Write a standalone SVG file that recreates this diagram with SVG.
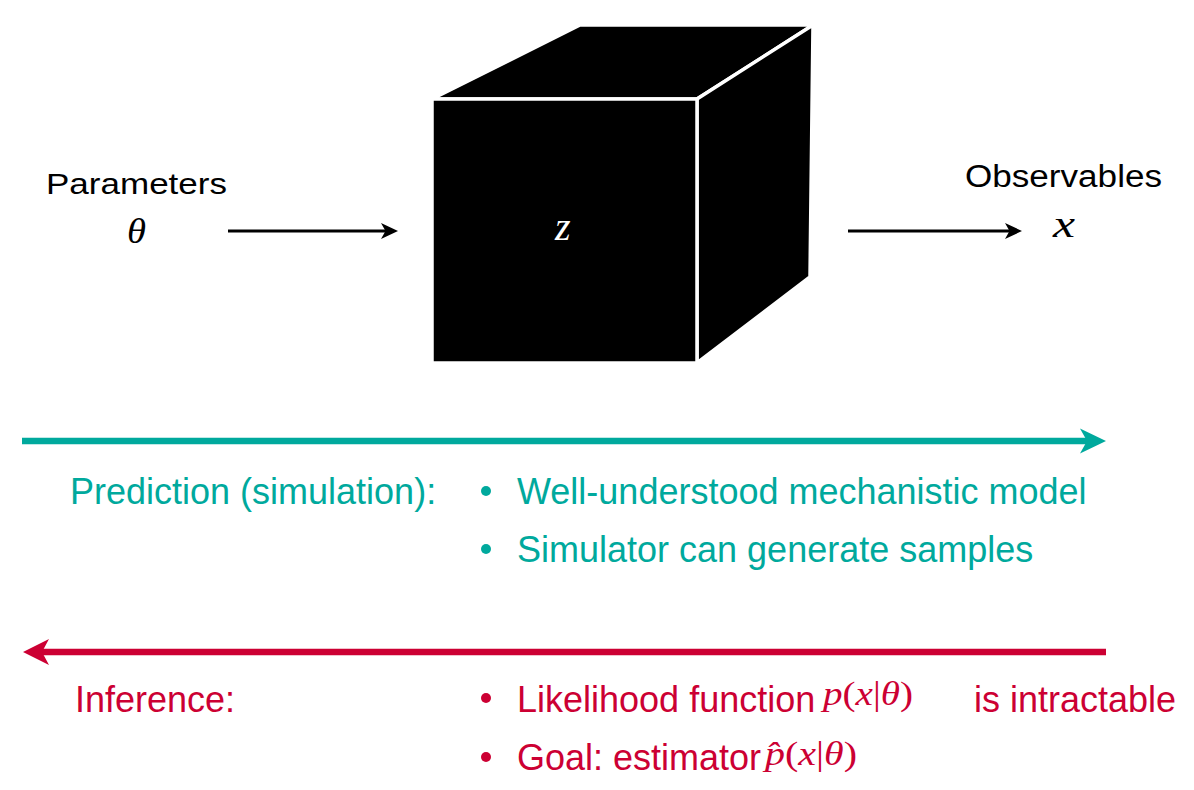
<svg xmlns="http://www.w3.org/2000/svg" width="1194" height="790" viewBox="0 0 1194 790">
<defs>
<style>
.sans{font-family:"Liberation Sans",Arial,Helvetica,sans-serif;}
.math{font-family:"Liberation Serif","Times New Roman",serif;}
.it{font-style:italic;}
.teal{fill:#00a99d;}
.red{fill:#cc0033;}
.face{fill:#000;stroke:#fff;stroke-width:3.5;stroke-linejoin:miter;}
</style>
<marker id="headBlack" markerUnits="userSpaceOnUse" markerWidth="20" markerHeight="20" viewBox="-18 -10 20 20" refX="-8" refY="0" orient="auto">
<path d="M0,0 L-17,-8 L-12.5,0 L-17,8 Z" fill="#000"/>
</marker>
<marker id="headTeal" markerUnits="userSpaceOnUse" markerWidth="32" markerHeight="32" viewBox="-28 -16 32 32" refX="-15" refY="0" orient="auto">
<path d="M0,0 L-26,-12.5 L-19,0 L-26,12.5 Z" fill="#00a99d"/>
</marker>
<marker id="headRed" markerUnits="userSpaceOnUse" markerWidth="32" markerHeight="32" viewBox="-28 -16 32 32" refX="-15" refY="0" orient="auto">
<path d="M0,0 L-26,-13 L-19,0 L-26,13 Z" fill="#cc0033"/>
</marker>
</defs>
<rect width="1194" height="790" fill="#fff"/>

<g id="cube">
<polygon class="face" points="432,99 580,25 813,25 697,99"/>
<polygon class="face" points="697,99 813,25 810,277 697,363"/>
<rect class="face" x="432" y="99" width="265" height="264"/>
<text class="math it" x="555" y="240" font-size="40" fill="#fff">z</text>
</g>

<g id="parameters">
<text class="sans" x="46" y="194" font-size="30" textLength="181" lengthAdjust="spacingAndGlyphs" fill="#000">Parameters</text>
<text class="math it" x="127" y="243" font-size="36" textLength="19" lengthAdjust="spacingAndGlyphs" fill="#000">θ</text>
</g>

<g id="observables">
<text class="sans" x="965" y="187" font-size="31" textLength="197" lengthAdjust="spacingAndGlyphs" fill="#000">Observables</text>
<text class="math it" x="1053" y="237" font-size="38" textLength="22" lengthAdjust="spacingAndGlyphs" fill="#000">x</text>
</g>

<g id="connectors">
<line x1="228" y1="231" x2="390" y2="231" stroke="#000" stroke-width="2.8" marker-end="url(#headBlack)"/>
<line x1="848" y1="231" x2="1014" y2="231" stroke="#000" stroke-width="2.8" marker-end="url(#headBlack)"/>
<line x1="22" y1="441" x2="1091" y2="441" stroke="#00a99d" stroke-width="6.5" marker-end="url(#headTeal)"/>
<line x1="1106" y1="652" x2="38" y2="652" stroke="#cc0033" stroke-width="6.5" marker-end="url(#headRed)"/>
</g>

<g id="prediction">
<text class="sans teal" x="70" y="504" font-size="36">Prediction (simulation):</text>
<circle class="teal" cx="486" cy="491" r="5"/>
<text class="sans teal" x="517" y="504" font-size="36">Well-understood mechanistic model</text>
<circle class="teal" cx="486" cy="549" r="5"/>
<text class="sans teal" x="517" y="562" font-size="36">Simulator can generate samples</text>
</g>

<g id="inference">
<text class="sans red" x="75" y="712" font-size="36">Inference:</text>
<circle class="red" cx="486" cy="698" r="5"/>
<text class="sans red" x="517" y="712" font-size="36">Likelihood function</text>
<text class="math red" x="823" y="705" font-size="34" textLength="90" lengthAdjust="spacingAndGlyphs"><tspan class="it">p</tspan>(<tspan class="it">x</tspan>|<tspan class="it">θ</tspan>)</text>
<text class="sans red" x="974" y="712" font-size="36">is intractable</text>
<circle class="red" cx="486" cy="757" r="5"/>
<text class="sans red" x="517" y="770" font-size="36">Goal: estimator</text>
<text class="math red" x="765" y="765" font-size="34" textLength="92" lengthAdjust="spacingAndGlyphs"><tspan class="it">p̂</tspan>(<tspan class="it">x</tspan>|<tspan class="it">θ</tspan>)</text>
</g>
</svg>
